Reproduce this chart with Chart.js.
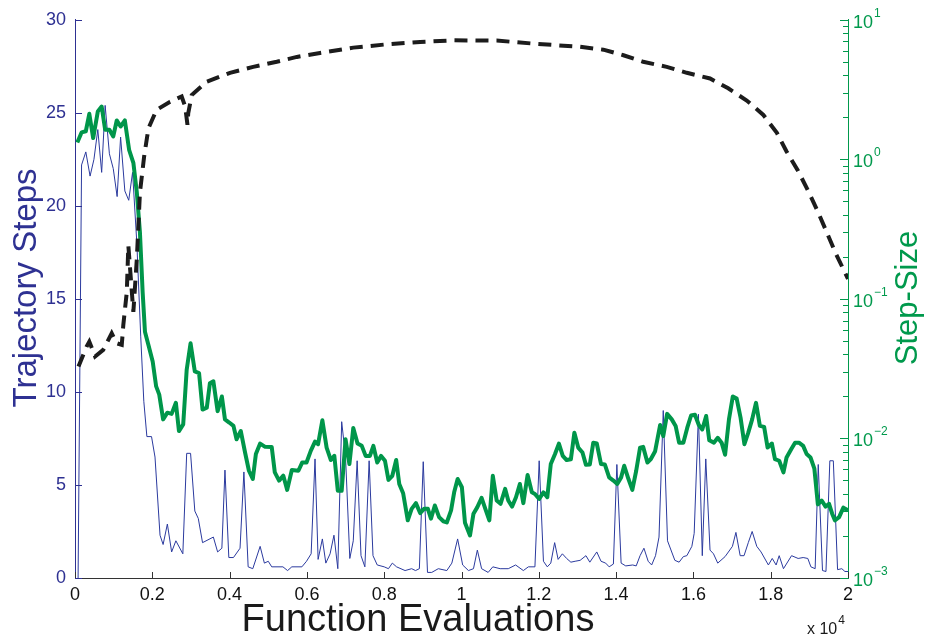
<!DOCTYPE html>
<html lang="en">
<head>
<meta charset="UTF-8">
<title>Trajectory Steps and Step-Size</title>
<script src="https://cdn.jsdelivr.net/npm/chart.js"></script>
<style>
  html, body { margin: 0; padding: 0; background: #fff; }
  canvas { display: block; }
</style>
</head>
<body>
<canvas id="evalChart" width="927" height="639"></canvas>
<script>
// x values are function evaluations in units of 10^4
// blue thin line, left axis
const stepsX = [0.008, 0.017, 0.028, 0.039, 0.049, 0.059, 0.069, 0.078, 0.089, 0.099,
  0.109, 0.118, 0.129, 0.139, 0.149, 0.16, 0.17, 0.178, 0.186, 0.198,
  0.207, 0.22, 0.228, 0.239, 0.25, 0.261, 0.279, 0.289, 0.299, 0.31,
  0.319, 0.33, 0.358, 0.369, 0.38, 0.388, 0.398, 0.41, 0.427, 0.437,
  0.448, 0.46, 0.479, 0.49, 0.5, 0.509, 0.538, 0.55, 0.561, 0.587,
  0.599, 0.611, 0.621, 0.629, 0.64, 0.649, 0.66, 0.67, 0.68, 0.69,
  0.7, 0.711, 0.72, 0.73, 0.74, 0.75, 0.761, 0.771, 0.782, 0.8,
  0.811, 0.821, 0.832, 0.854, 0.871, 0.881, 0.891, 0.901, 0.912, 0.923,
  0.94, 0.962, 0.975, 0.99, 1.003, 1.018, 1.031, 1.041, 1.052, 1.069,
  1.081, 1.1, 1.121, 1.14, 1.16, 1.173, 1.19, 1.201, 1.212, 1.222,
  1.231, 1.241, 1.25, 1.261, 1.272, 1.283, 1.294, 1.307, 1.322, 1.332,
  1.35, 1.361, 1.373, 1.382, 1.393, 1.402, 1.413, 1.425, 1.443, 1.452,
  1.462, 1.472, 1.483, 1.492, 1.502, 1.511, 1.522, 1.533, 1.552, 1.563,
  1.574, 1.583, 1.596, 1.602, 1.613, 1.623, 1.632, 1.643, 1.652, 1.663,
  1.682, 1.701, 1.71, 1.721, 1.731, 1.742, 1.752, 1.764, 1.775, 1.794,
  1.804, 1.814, 1.822, 1.833, 1.854, 1.871, 1.884, 1.896, 1.904, 1.915,
  1.923, 1.934, 1.943, 1.953, 1.962, 1.973, 1.984, 1.992, 2.0];
const stepsY = [0, 22.2, 22.9, 21.6, 22.5, 24.1, 21.8, 25.4, 22.8, 22.0,
  20.5, 23.7, 20.8, 20.3, 21.8, 18, 13, 9.5, 7.6, 7.6,
  6.5, 2.3, 1.8, 2.9, 1.4, 2.0, 1.3, 6.7, 6.7, 3.6,
  3.2, 1.9, 2.2, 1.4, 1.6, 5.8, 1.1, 1.1, 1.6, 5.7,
  0.6, 0.5, 1.7, 0.8, 0.9, 0.6, 0.6, 0.4, 0.6, 0.6,
  0.9, 1.3, 6.4, 1.0, 2.1, 0.8, 1.3, 2.3, 0.5, 8.4,
  6.5, 1.05, 2.0, 6.3, 1.2, 0.6, 6.3, 1.2, 0.7, 0.6,
  0.5, 0.8, 0.6, 0.4, 0.5, 0.4, 0.5, 6.25, 0.3, 0.3,
  0.5, 0.4, 0.8, 2.1, 0.7, 0.4, 0.5, 1.5, 0.5, 0.3,
  0.6, 0.5, 0.5, 0.7, 0.4, 0.6, 0.6, 6.3, 0.9, 0.6,
  0.8, 1.9, 1.0, 1.3, 1.05, 0.85, 0.9, 0.95, 1.2, 0.85,
  1.4, 0.9, 0.8, 0.6, 0.75, 6.1, 0.8, 0.65, 0.7, 0.65,
  1.2, 1.6, 0.9, 0.7, 1.2, 2.2, 9.0, 2.0, 0.95, 0.85,
  1.15, 1.2, 1.7, 2.4, 8.8, 1.2, 6.4, 1.5, 1.3, 0.8,
  1.15, 1.7, 2.45, 1.2, 1.2, 1.9, 2.5, 1.7, 1.4, 0.7,
  1.05, 0.7, 1.2, 0.5, 1.2, 1.05, 1.1, 1.05, 0.6, 0.5,
  6.1, 0.4, 0.35, 6.3, 6.3, 0.45, 0.5, 0.35, 0.35];

// green thick line, right (log) axis
const sizeX = [0.006, 0.017, 0.028, 0.037, 0.047, 0.059, 0.069, 0.078, 0.089, 0.099,
  0.108, 0.118, 0.129, 0.14, 0.151, 0.16, 0.168, 0.175, 0.181, 0.19,
  0.201, 0.21, 0.218, 0.228, 0.239, 0.25, 0.261, 0.269, 0.28, 0.289,
  0.299, 0.31, 0.321, 0.33, 0.341, 0.349, 0.358, 0.369, 0.38, 0.388,
  0.399, 0.41, 0.418, 0.429, 0.44, 0.45, 0.46, 0.468, 0.479, 0.492,
  0.509, 0.517, 0.528, 0.539, 0.549, 0.561, 0.578, 0.588, 0.599, 0.61,
  0.621, 0.629, 0.64, 0.651, 0.662, 0.671, 0.68, 0.69, 0.7, 0.71,
  0.72, 0.731, 0.742, 0.752, 0.763, 0.772, 0.782, 0.792, 0.802, 0.811,
  0.821, 0.831, 0.839, 0.849, 0.861, 0.871, 0.882, 0.893, 0.903, 0.913,
  0.921, 0.931, 0.942, 0.953, 0.962, 0.973, 0.981, 0.99, 1.001, 1.009,
  1.022, 1.031, 1.041, 1.052, 1.063, 1.072, 1.081, 1.091, 1.101, 1.113,
  1.121, 1.131, 1.141, 1.151, 1.16, 1.171, 1.182, 1.19, 1.201, 1.212,
  1.222, 1.231, 1.242, 1.252, 1.262, 1.272, 1.283, 1.292, 1.302, 1.313,
  1.322, 1.332, 1.341, 1.35, 1.361, 1.371, 1.382, 1.393, 1.403, 1.413,
  1.421, 1.432, 1.442, 1.452, 1.462, 1.47, 1.481, 1.49, 1.501, 1.514,
  1.522, 1.532, 1.544, 1.554, 1.563, 1.574, 1.584, 1.594, 1.604, 1.614,
  1.623, 1.633, 1.641, 1.653, 1.663, 1.673, 1.682, 1.692, 1.702, 1.712,
  1.722, 1.732, 1.742, 1.752, 1.762, 1.772, 1.783, 1.792, 1.803, 1.811,
  1.822, 1.833, 1.841, 1.853, 1.863, 1.873, 1.884, 1.893, 1.903, 1.913,
  1.922, 1.932, 1.942, 1.951, 1.959, 1.966, 1.977, 1.988, 2.0];
const sizeY = [1.32, 1.56, 1.59, 2.12, 1.42, 2.2, 2.39, 1.63, 1.63, 1.46,
  1.9, 1.72, 1.9, 1.17, 0.944, 0.578, 0.3, 0.112, 0.0582, 0.0468,
  0.0356, 0.0236, 0.0206, 0.0137, 0.0153, 0.015, 0.018, 0.0113, 0.0126, 0.0311,
  0.0481, 0.0302, 0.0294, 0.0161, 0.0166, 0.0249, 0.0257, 0.0157, 0.02, 0.0137,
  0.013, 0.0123, 0.00987, 0.0113, 0.00793, 0.00587, 0.00512, 0.00773, 0.00919, 0.00871,
  0.0087, 0.00571, 0.00499, 0.00541, 0.00428, 0.00594, 0.00587, 0.00673, 0.00673, 0.00815,
  0.00949, 0.0091, 0.0135, 0.0086, 0.007, 0.0075, 0.00422, 0.00422, 0.00986, 0.00655,
  0.0119, 0.00919, 0.00885, 0.0075, 0.0075, 0.00885, 0.00673, 0.0075, 0.00692, 0.00505,
  0.0054, 0.007, 0.00472, 0.00405, 0.00259, 0.00313, 0.00344, 0.00292, 0.00313, 0.00313,
  0.00266, 0.00331, 0.00273, 0.00255, 0.0025, 0.00305, 0.00411, 0.00512, 0.00447, 0.00249,
  0.00202, 0.00289, 0.00322, 0.00375, 0.00305, 0.00259, 0.0054, 0.00359, 0.0034, 0.00435,
  0.00359, 0.00325, 0.00379, 0.00472, 0.00344, 0.00547, 0.00411, 0.004, 0.00369, 0.00411,
  0.00379, 0.00655, 0.00773, 0.00919, 0.0075, 0.007, 0.0071, 0.011, 0.0086, 0.00793,
  0.00647, 0.0065, 0.00933, 0.0092, 0.00655, 0.0065, 0.00526, 0.00499, 0.00472, 0.00526,
  0.00637, 0.00512, 0.00428, 0.00587, 0.0086, 0.0087, 0.00673, 0.00712, 0.0081, 0.0125,
  0.0104, 0.015, 0.0137, 0.0123, 0.00933, 0.00933, 0.0119, 0.0146, 0.0148, 0.0125,
  0.0116, 0.0145, 0.0097, 0.00933, 0.0101, 0.00933, 0.00764, 0.0137, 0.02, 0.0193,
  0.0141, 0.0091, 0.011, 0.0137, 0.018, 0.0123, 0.0121, 0.0086, 0.0092, 0.00712,
  0.00692, 0.00571, 0.0073, 0.00838, 0.00933, 0.00933, 0.00885, 0.00773, 0.0073, 0.00607,
  0.00337, 0.00359, 0.00325, 0.0034, 0.00289, 0.00259, 0.00273, 0.00319, 0.00305];

// black dashed line, right (log) axis
const dashX = [0.009, 0.03, 0.037, 0.052, 0.073, 0.095, 0.108, 0.121, 0.125, 0.134,
  0.138, 0.151, 0.16, 0.168, 0.179, 0.19, 0.211, 0.246, 0.276, 0.285,
  0.291, 0.293, 0.302, 0.341, 0.401, 0.461, 0.522, 0.574, 0.634, 0.72,
  0.806, 0.893, 0.979, 1.091, 1.186, 1.307, 1.367, 1.419, 1.47, 1.531,
  1.583, 1.643, 1.69, 1.738, 1.781, 1.816, 1.841, 1.871, 1.897, 1.923,
  1.945, 1.969, 2.0];
const dashY = [0.0328, 0.0455, 0.0494, 0.0387, 0.0431, 0.0567, 0.0481, 0.0468, 0.065, 0.112,
  0.241, 0.0807, 0.194, 0.578, 1.055, 1.67, 2.26, 2.59, 2.82, 2.39,
  1.77, 2.14, 2.89, 3.6, 4.17, 4.6, 5.0, 5.42, 5.79, 6.32,
  6.67, 6.94, 7.13, 7.1, 6.75, 6.4, 6.11, 5.57, 5.0, 4.6,
  4.17, 3.8, 3.23, 2.64, 2.08, 1.55, 1.14, 0.824, 0.594, 0.416,
  0.3, 0.21, 0.139];

const xTicks = [0, 0.2, 0.4, 0.6, 0.8, 1, 1.2, 1.4, 1.6, 1.8, 2];
const leftTicks = [0, 5, 10, 15, 20, 25, 30];
const rightPowers = [-3, -2, -1, 0, 1];

const FONT = "'Liberation Sans', Arial, Helvetica, sans-serif";
const BLUE = '#2e3192';
const GREEN = '#00994c';
const BLUE_LINE = '#2b3a9e';
const GREEN_LINE = '#00964a';

function toPoints(xs, ys) {
  return xs.map((x, i) => ({ x: x, y: ys[i] }));
}

// minor tick values for the log axis (2..9 per decade)
function logTickValues() {
  const out = [];
  for (let p = -3; p < 1; p++) {
    for (let m = 1; m < 10; m++) out.push({ value: m * Math.pow(10, p), major: m === 1 });
  }
  out.push({ value: 10, major: true });
  return out;
}

const decor = {
  id: 'decor',
  afterDraw(chart) {
    const ctx = chart.ctx;
    const xs = chart.scales.x, yl = chart.scales.y, yr = chart.scales.y2;
    const a = chart.chartArea;
    ctx.save();
    ctx.lineWidth = 1;

    // inward tick marks
    ctx.strokeStyle = '#333';
    ctx.beginPath();
    xTicks.forEach(v => {
      const px = Math.round(xs.getPixelForValue(v)) + 0.5;
      ctx.moveTo(px, a.bottom);
      ctx.lineTo(px, a.bottom - 6);
    });
    ctx.stroke();

    ctx.strokeStyle = BLUE;
    ctx.beginPath();
    leftTicks.forEach(v => {
      const py = Math.round(yl.getPixelForValue(v)) + 0.5;
      ctx.moveTo(a.left, py);
      ctx.lineTo(a.left + 7, py);
    });
    ctx.stroke();

    ctx.strokeStyle = GREEN;
    ctx.beginPath();
    logTickValues().forEach(t => {
      const py = Math.round(yr.getPixelForValue(t.value)) + 0.5;
      ctx.moveTo(a.right, py);
      ctx.lineTo(a.right - (t.major ? 8 : 5), py);
    });
    ctx.stroke();

    // right axis labels 10^n
    ctx.fillStyle = GREEN;
    ctx.textAlign = 'left';
    ctx.textBaseline = 'alphabetic';
    rightPowers.forEach(p => {
      const py = yr.getPixelForValue(Math.pow(10, p));
      ctx.font = '18px ' + FONT;
      ctx.fillText('10', a.right + 5, py + 8);
      const w = ctx.measureText('10').width;
      ctx.font = '12px ' + FONT;
      ctx.fillText(String(p).replace('-', '\u2212'), a.right + 6 + w, py - 3);
    });

    // axis titles
    ctx.textAlign = 'center';
    ctx.textBaseline = 'middle';
    ctx.font = '33px ' + FONT;
    ctx.fillStyle = BLUE;
    ctx.save();
    ctx.translate(27, 288);
    ctx.rotate(-Math.PI / 2);
    ctx.fillText('Trajectory Steps', 0, 0);
    ctx.restore();

    ctx.font = '31px ' + FONT;
    ctx.fillStyle = GREEN;
    ctx.save();
    ctx.translate(908, 298);
    ctx.rotate(-Math.PI / 2);
    ctx.fillText('Step-Size', 0, 0);
    ctx.restore();

    ctx.textBaseline = 'alphabetic';
    ctx.font = '38px ' + FONT;
    ctx.fillStyle = '#1a1a1a';
    ctx.fillText('Function Evaluations', 418, 631);

    ctx.textAlign = 'left';
    ctx.font = '16px ' + FONT;
    ctx.fillText('x 10', 807, 634);
    const w4 = ctx.measureText('x 10').width;
    ctx.font = '12px ' + FONT;
    ctx.fillText('4', 808 + w4, 624);
    ctx.restore();
  }
};

new Chart(document.getElementById('evalChart'), {
  type: 'line',
  data: {
    datasets: [
      { label: 'dashed', data: toPoints(dashX, dashY), yAxisID: 'y2', borderColor: '#1c1c1c',
        borderWidth: 4, borderDash: [13, 8], order: 0 },
      { label: 'Step-Size', data: toPoints(sizeX, sizeY), yAxisID: 'y2', borderColor: GREEN_LINE,
        borderWidth: 4, borderJoinStyle: 'round', order: 1 },
      { label: 'Trajectory Steps', data: toPoints(stepsX, stepsY), yAxisID: 'y', borderColor: BLUE_LINE,
        borderWidth: 1, order: 2 }
    ]
  },
  options: {
    responsive: false,
    animation: false,
    elements: { point: { radius: 0 }, line: { tension: 0, fill: false } },
    plugins: { legend: { display: false }, tooltip: { enabled: false } },
    layout: { padding: { top: 16, left: 0, right: 0, bottom: 0 } },
    scales: {
      x: {
        type: 'linear', min: 0, max: 2,
        afterBuildTicks: s => { s.ticks = xTicks.map(v => ({ value: v })); },
        afterFit: s => { s.height = 61; },
        grid: { display: false, drawTicks: false },
        border: { color: '#333', width: 1 },
        ticks: { color: '#111', font: { family: FONT, size: 18 }, padding: 6,
          maxRotation: 0, autoSkip: false, callback: v => String(v) }
      },
      y: {
        type: 'linear', position: 'left', min: 0, max: 30,
        afterBuildTicks: s => { s.ticks = leftTicks.map(v => ({ value: v })); },
        afterFit: s => { s.width = 75; },
        grid: { display: false, drawTicks: false },
        border: { color: BLUE, width: 1 },
        ticks: { color: BLUE, font: { family: FONT, size: 18 }, padding: 9 }
      },
      y2: {
        type: 'logarithmic', position: 'right', min: 0.001, max: 10,
        afterBuildTicks: s => { s.ticks = logTickValues(); },
        afterFit: s => { s.width = 79; },
        grid: { display: false, drawTicks: false },
        border: { color: GREEN, width: 1 },
        ticks: { display: false }
      }
    }
  },
  plugins: [decor]
});
</script>
</body>
</html>
